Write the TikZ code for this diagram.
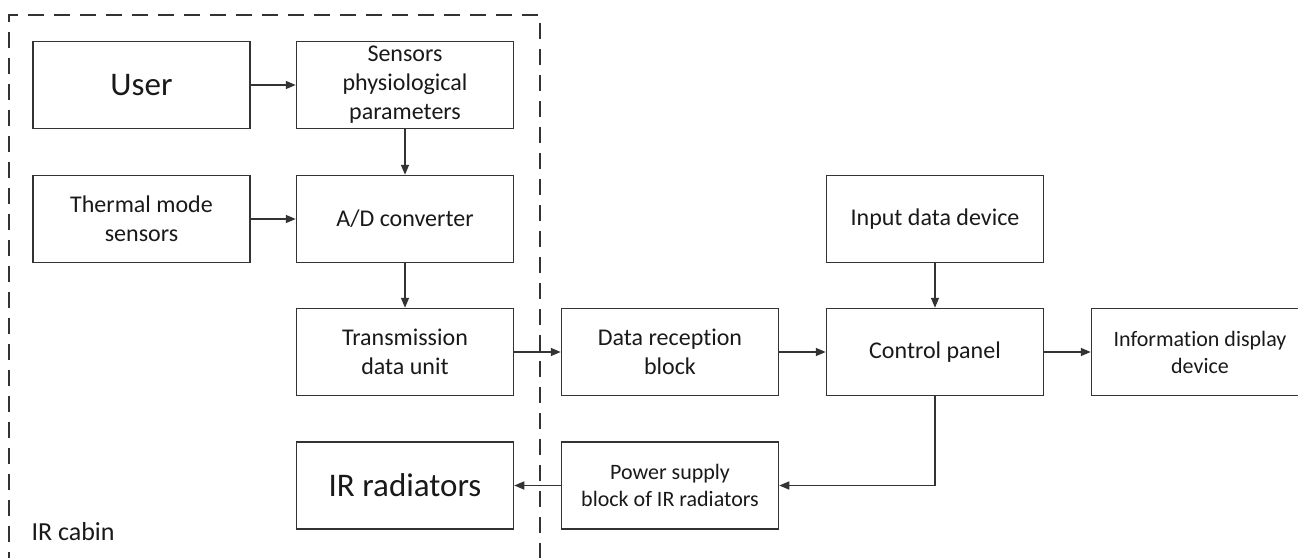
\documentclass[tikz,border=0pt]{standalone}
\usepackage{fontspec}
\setmainfont{Carlito}[Ligatures=NoCommon]
\usetikzlibrary{arrows.meta}

\tikzset{
  block/.style={draw=black!80, line width=1.5pt, rectangle, minimum width=217pt,
    minimum height=87pt, inner sep=2pt, align=center, text=black!90,
    font=\fontsize{24}{29}\selectfont},
  bigtext/.style={font=\fontsize{33}{38}\selectfont},
  smalltext/.style={font=\fontsize{22}{27}\selectfont},
  link/.style={draw=black!80, line width=1.5pt, -{Triangle[length=10pt,width=8pt]}},
  cabin/.style={draw=black!80, line width=1.5pt, dash pattern=on 16pt off 10pt}
}

\begin{document}
\begin{tikzpicture}[x=1pt,y=-1pt]
  \useasboundingbox (0,0) rectangle (1298,557);
  \clip (0,0) rectangle (1298,557);

  % enclosure of the cabin (open at the bottom edge of the sheet)
  \draw[cabin] (9,620) -- (9,15) -- (540,15) -- (540,620);
  \node[anchor=base west, font=\fontsize{26}{30}\selectfont, text=black!90] (cabinlabel) at (28,540) {IR cabin};

  % blocks
  \node[block, bigtext]   (user)  at (141.5,85)  {User};
  \node[block]            (sens)  at (405,85)    {Sensors\\physiological\\parameters};
  \node[block]            (therm) at (141.5,219) {Thermal mode\\sensors};
  \node[block]            (adc)   at (405,219)   {A/D converter};
  \node[block]            (trans) at (405,352)   {Transmission\\data unit};
  \node[block]            (recv)  at (670,352)   {Data reception\\block};
  \node[block]            (ctrl)  at (935,352)   {Control panel};
  \node[block, smalltext] (info)  at (1200,352)  {Information display\\device};
  \node[block]            (input) at (935,219)   {Input data device};
  \node[block, smalltext] (power) at (670,485.5) {Power supply\\block of IR radiators};
  \node[block, bigtext]   (irrad) at (405,485.5) {IR radiators};

  % signal flow
  \draw[link] (user) -- (sens);
  \draw[link] (sens) -- (adc);
  \draw[link] (therm) -- (adc);
  \draw[link] (adc) -- (trans);
  \draw[link] (trans) -- (recv);
  \draw[link] (recv) -- (ctrl);
  \draw[link] (ctrl) -- (info);
  \draw[link] (input) -- (ctrl);
  \draw[link] (ctrl.south) |- (power.east);
  \draw[link] (power) -- (irrad);
\end{tikzpicture}
\end{document}
